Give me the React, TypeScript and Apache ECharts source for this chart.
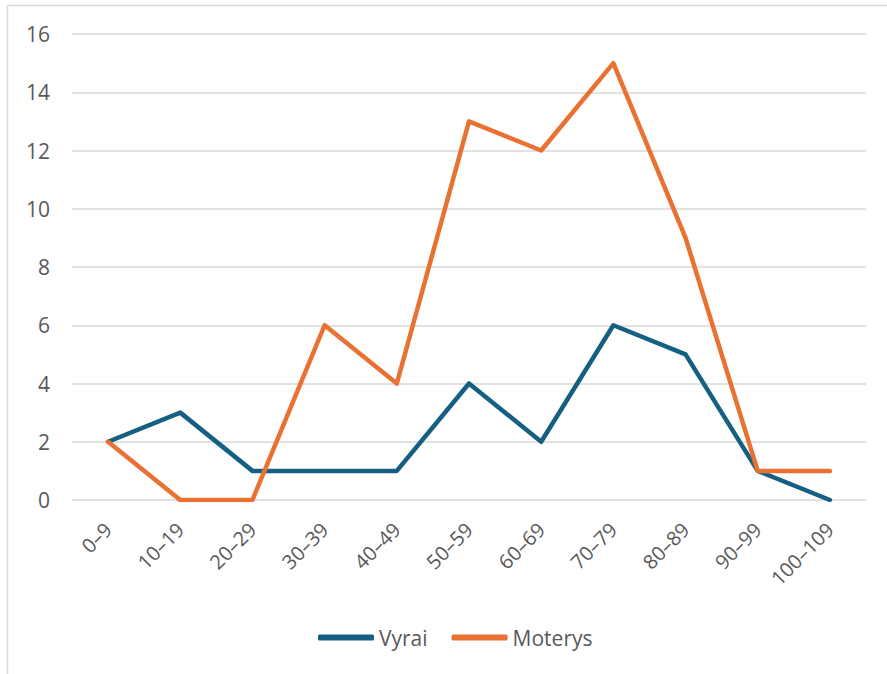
import React, { useEffect, useRef } from "react";
import * as echarts from "echarts";

const categories = ["0–9", "10–19", "20–29", "30–39", "40–49", "50–59", "60–69", "70–79", "80–89", "90–99", "100–109"];
const vyrai = [2, 3, 1, 1, 1, 4, 2, 6, 5, 1, 0];
const moterys = [2, 0, 0, 6, 4, 13, 12, 15, 9, 1, 1];
const seriesNames = ["Vyrai", "Moterys"];

const FONT = "Open Sans, Liberation Sans, sans-serif";

export default function App() {
  const ref = useRef<HTMLDivElement>(null);
  useEffect(() => {
    if (!ref.current) return;
    const chart = echarts.init(ref.current, undefined, { renderer: "svg" });
    chart.setOption({
      animation: false,
      backgroundColor: "#ffffff",
      graphic: [
        {
          type: "rect",
          shape: { x: 7.5, y: 5.5, width: 900, height: 720 },
          style: { fill: "none", stroke: "#d9d9d9", lineWidth: 1.5 },
          silent: true,
        },
      ],
      grid: { left: 72, right: 21, top: 34, bottom: 174, containLabel: false },
      legend: {
        data: seriesNames,
        bottom: 21,
        left: 313,
        icon: "roundRect",
        itemWidth: 56,
        itemHeight: 6,
        itemGap: 24,
        itemTextGap: 4,
        itemStyle: { borderWidth: 0 },
        textStyle: { fontFamily: FONT, fontSize: 21, color: "#595959" },
      },
      xAxis: {
        type: "category",
        data: categories,
        boundaryGap: true,
        axisLine: { show: false },
        axisTick: { show: false },
        axisLabel: {
          rotate: 45,
          margin: 26,
          fontFamily: FONT,
          fontSize: 20,
          color: "#595959",
          interval: 0,
        },
      },
      yAxis: {
        type: "value",
        min: 0,
        max: 16,
        interval: 2,
        axisLine: { show: false },
        axisTick: { show: false },
        splitLine: { lineStyle: { color: "#d9d9d9", width: 1.5 } },
        axisLabel: { margin: 22, fontFamily: FONT, fontSize: 21, color: "#595959" },
      },
      series: [
        {
          name: seriesNames[0],
          type: "line",
          data: vyrai,
          symbol: "none",
          color: "#156082",
          lineStyle: { width: 4.5, color: "#156082", cap: "round", join: "round" },
          z: 3,
        },
        {
          name: seriesNames[1],
          type: "line",
          data: moterys,
          symbol: "none",
          color: "#E97132",
          lineStyle: { width: 4.5, color: "#E97132", cap: "round", join: "round" },
          z: 4,
        },
      ],
    });
    return () => chart.dispose();
  }, []);
  return (
    <div
      ref={ref}
      style={{ position: "fixed", left: 0, top: 0, width: 887, height: 674 }}
    />
  );
}
